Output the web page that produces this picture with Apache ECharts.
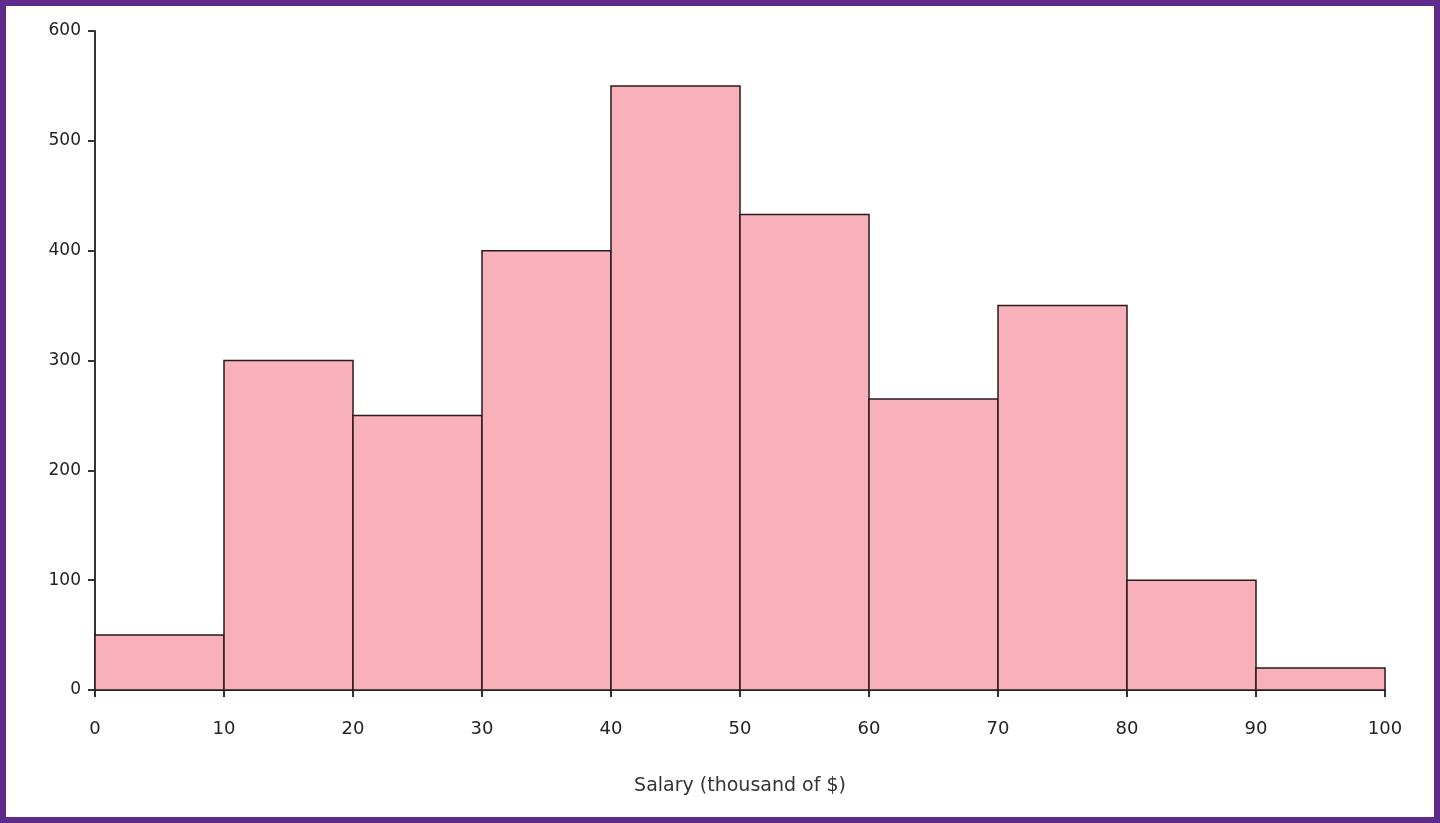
<!DOCTYPE html>
<html>
<head>
<meta charset="utf-8">
<script src="https://cdn.jsdelivr.net/npm/echarts@6/dist/echarts.min.js"></script>
<style>
  html, body { margin: 0; padding: 0; background: #fff; }
  #frame { width: 1440px; height: 823px; box-sizing: border-box; border: 6px solid #5e2a8c; }
  #chart { width: 100%; height: 100%; }
</style>
</head>
<body>
<div id="frame"><div id="chart"></div></div>
<script>
// bin edges and counts
const binStarts = [0, 10, 20, 30, 40, 50, 60, 70, 80, 90];
const binWidth = 10;
const counts = [50, 300, 250, 400, 550, 433, 265, 350, 100, 20];
const xTitle = 'Salary (thousand of $)';

const data = binStarts.map((s, i) => [s, s + binWidth, counts[i]]);

let myChart = echarts.init(document.getElementById('chart'));

let option = {
    animation: false,
    grid: { left: 89, right: 49, top: 25, bottom: 127 },
    xAxis: {
        type: 'value',
        min: 0, max: 100, interval: 10,
        name: xTitle,
        nameLocation: 'middle',
        nameGap: 87,
        nameTextStyle: { fontFamily: 'DejaVu Sans', fontSize: 19, color: '#333' },
        axisLine: { lineStyle: { color: '#333', width: 2 } },
        axisTick: { lineStyle: { color: '#333', width: 2 }, length: 7 },
        axisLabel: { fontFamily: 'DejaVu Sans', fontSize: 18, color: '#222', margin: 30 },
        splitLine: { show: false }
    },
    yAxis: {
        type: 'value',
        min: 0, max: 600, interval: 100,
        axisLine: { show: true, lineStyle: { color: '#333', width: 2 } },
        axisTick: { show: true, inside: false, lineStyle: { color: '#333', width: 2 }, length: 7 },
        axisLabel: { fontFamily: 'DejaVu Sans', fontSize: 17, color: '#222', margin: 14 },
        splitLine: { show: false }
    },
    series: [{
        type: 'custom',
        data: data,
        encode: { x: [0, 1], y: 2 },
        renderItem: function (params, api) {
            let p0 = api.coord([api.value(0), api.value(2)]);
            let p1 = api.coord([api.value(1), 0]);
            return {
                type: 'rect',
                shape: { x: p0[0], y: p0[1], width: p1[0] - p0[0], height: p1[1] - p0[1] },
                style: { fill: '#f8b1ba', stroke: '#2a1a1a', lineWidth: 1.5 }
            };
        }
    }]
};
myChart.setOption(option);
window.addEventListener('resize', function () {
    setTimeout(function () { myChart.resize(); }, 100);
});
</script>
</body>
</html>
